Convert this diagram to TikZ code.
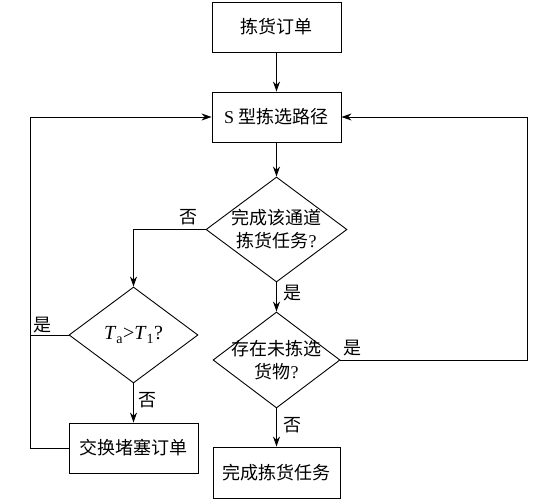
\documentclass[tikz,border=0pt]{standalone}
\usepackage{fontspec}
\setmainfont{Liberation Serif}
\newfontfamily\cjk{Noto Sans CJK SC}
\usetikzlibrary{shapes.geometric,arrows.meta}
\begin{document}
\begin{tikzpicture}[x=1pt,y=-1pt,
  every node/.style={font=\fontsize{18}{23}\selectfont},
  box/.style={draw,line width=0.9pt,minimum width=129pt,minimum height=50pt,inner sep=0pt},
  dia/.style={draw,diamond,line width=0.9pt,inner sep=0pt},
  txt/.style={inner sep=0pt,align=center},
  lbl/.style={inner sep=0pt},
  ln/.style={line width=0.9pt},
  arr/.style={ln,-{Stealth[length=10pt,width=7pt]}}]
\useasboundingbox (0,0) rectangle (555,500);
\node[box] (order) at (276.5,27) {\cjk 拣货订单};
\node[box] (S) at (276.5,117) {S {\cjk 型拣选路径}};
\node[dia,minimum width=141pt,minimum height=105pt] (d1) at (276.5,229.5) {};
\node[txt] (t1) at (d1) {{\cjk 完成该通道}\\{\cjk 拣货任务}?};
\node[dia,minimum width=129pt,minimum height=96pt] (d2) at (133.5,335) {};
\node[txt,font=\fontsize{20}{24}\selectfont] (t2) at (d2) {\textit{T}\textsubscript{a}>\textit{T}\textsubscript{1}?};
\node[dia,minimum width=127pt,minimum height=96pt] (d3) at (276.5,360) {};
\node[txt] (t3) at (d3) {{\cjk 存在未拣选}\\{\cjk 货物}?};
\node[box] (ex) at (133.5,448) {\cjk 交换堵塞订单};
\node[box,minimum height=51pt,minimum width=127pt] (done) at (276.5,472.5) {\cjk 完成拣货任务};
\coordinate (R) at (527,360);
\coordinate (L) at (30,448);
\draw[arr] (order) -- (S);
\draw[arr] (S) -- (d1);
\draw[arr] (d1.west) -| (d2.north);
\draw[arr] (d1.south) -- (d3.north);
\draw[arr] (d3.east) -- (R) |- (S.east);
\draw[arr] (d3.south) -- (done.north);
\draw[arr] (d2.south) -- (ex.north);
\draw[ln] (d2.west) -- (d2.west -| L);
\draw[arr] (ex.west) -- (L) |- (S.west);
\node[lbl] (n1) at (188,217) {\cjk 否};
\node[lbl] (y1) at (292,293) {\cjk 是};
\node[lbl] (y2) at (352,348) {\cjk 是};
\node[lbl] (n2) at (292,425) {\cjk 否};
\node[lbl] (n3) at (147,400) {\cjk 否};
\node[lbl] (y3) at (43,325) {\cjk 是};
\end{tikzpicture}
\end{document}
